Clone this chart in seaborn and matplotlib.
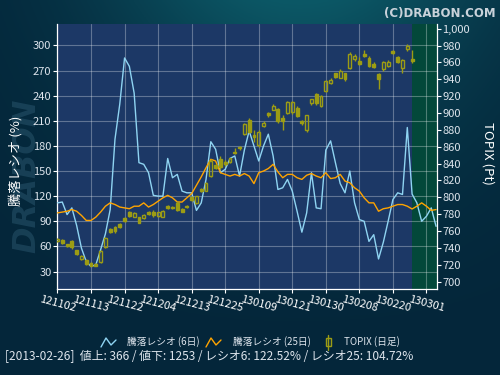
import numpy as np
import matplotlib
matplotlib.use('Agg')
import matplotlib.pyplot as plt
from matplotlib.lines import Line2D
from matplotlib.patches import Rectangle
import seaborn as sns

# x tick labels (every 7 trading days, from 2012-11-02)
tick_pos = [0, 7, 14, 21, 28, 35, 42, 49, 56, 63, 70, 77]
tick_labels = ['121102', '121113', '121122', '121204', '121213', '121225',
               '130109', '130121', '130130', '130208', '130220', '130301']

# 騰落レシオ 6日
ratio6 = [112, 113, 98, 106, 85, 58, 42, 36, 38, 56,
          75, 104, 188, 230, 285, 275, 243, 160, 158, 148,
          121, 120, 120, 165, 142, 146, 126, 124, 124, 103,
          112, 140, 185, 176, 148, 152, 165, 168, 144, 175,
          198, 180, 162, 180, 194, 168, 128, 130, 140, 126,
          102, 77, 100, 148, 106, 105, 175, 186, 160, 135,
          124, 150, 112, 92, 90, 66, 74, 45, 65, 90,
          116, 124, 122, 202, 122.5, 112, 90, 96, 106, 84]

# 騰落レシオ 25日
ratio25 = [100, 101, 102, 104, 102, 97, 91, 91, 95, 101,
           108, 112, 110, 107, 106, 105, 108, 108, 112, 107,
           110, 114, 118, 121, 118, 113, 113, 118, 123, 133,
           143, 154, 164, 162, 148, 146, 144, 146, 144, 147,
           144, 135, 148, 150, 153, 158, 149, 142, 146, 146,
           142, 140, 145, 147, 144, 142, 148, 141, 142, 146,
           138, 136, 130, 126, 118, 112, 112, 102, 105, 106,
           108, 110, 110, 108, 104.7, 108, 112, 108, 103, 104]

# TOPIX daily candles
topix_open = [748, 749, 744, 748, 737, 727, 725, 722, 721, 723,
              741, 762, 765, 768, 775, 783, 777, 776, 775, 783,
              782, 778, 777, 790, 789, 793, 786, 790, 800, 793,
              810, 808, 825, 838, 845, 842, 842, 854, 860, 875,
              892, 874, 862, 884, 900, 904, 905, 894, 900, 901,
              906, 891, 880, 912, 922, 908, 926, 935, 947, 942,
              947, 953, 964, 962, 970, 965, 958, 946, 952, 956,
              973, 966, 953, 976, 964]
topix_close = [751, 746, 742, 741, 733, 730, 721, 719, 719, 736,
               752, 759, 760, 765, 772, 778, 781, 770, 779, 780,
               779, 782, 784, 787, 787, 785, 783, 788, 797, 801,
               807, 817, 843, 835, 836, 839, 846, 852, 858, 887,
               878, 871, 878, 888, 897, 908, 890, 890, 913, 913,
               896, 888, 897, 916, 912, 920, 938, 939, 943, 950,
               940, 970, 968, 958, 968, 956, 955, 940, 961, 960,
               971, 961, 963, 980, 962]
topix_high = [752, 750, 745, 749, 738, 731, 727, 723, 722, 737,
              753, 763, 766, 770, 776, 784, 782, 777, 780, 784,
              785, 783, 785, 791, 790, 795, 787, 791, 801, 802,
              811, 818, 845, 839, 849, 844, 847, 858, 861, 888,
              894, 880, 880, 890, 901, 911, 906, 897, 914, 914,
              908, 892, 898, 917, 924, 921, 939, 941, 948, 952,
              948, 972, 970, 966, 975, 967, 960, 948, 962, 963,
              975, 968, 964, 982, 975]
topix_low = [747, 745, 741, 739, 732, 726, 720, 718, 718, 722,
             740, 758, 758, 764, 771, 777, 776, 769, 774, 779,
             777, 777, 776, 786, 786, 784, 782, 787, 796, 792,
             806, 807, 824, 834, 834, 837, 841, 851, 856, 874,
             876, 865, 860, 883, 895, 903, 888, 880, 899, 899,
             895, 886, 878, 910, 910, 907, 925, 934, 942, 941,
             938, 952, 962, 957, 966, 954, 953, 928, 950, 955,
             970, 959, 947, 974, 959]

footer = '[2013-02-26]  値上: 366 / 値下: 1253 / レシオ6: 122.52% / レシオ25: 104.72%'

sns.set_theme(style='dark')
plt.rcParams['font.family'] = ['Noto Sans CJK JP', 'DejaVu Sans']

BLUE = '#8fd4f2'
ORANGE = '#ffa400'
OLIVE = '#9c9c14'
TXT = '#dde4ec'

fig = plt.figure(figsize=(5, 3.75), dpi=100)

# background gradient
bg = fig.add_axes([0, 0, 1, 1], zorder=-10)
yy, xx = np.mgrid[0:1:200j, 0:1:260j]
w = np.exp(-((xx - 0.6) / 0.4) ** 2) * (1 - yy) ** 2
base = np.array([4, 38, 58]) / 255
teal = np.array([12, 88, 102]) / 255
img = base + w[..., None] * (teal - base)
bg.imshow(img, aspect='auto', extent=[0, 1, 0, 1])
bg.axis('off')
bg.text(0.054, 0.53, 'DRABON', rotation=90, fontsize=23, fontweight='bold',
        fontstyle='italic', color='#2b5870', alpha=0.5, ha='center', va='center',
        family='DejaVu Sans')

ax = fig.add_axes([0.114, 0.229, 0.760, 0.708])
ax.set_facecolor('#1c3866')
days = np.arange(len(ratio6))

ax.axvspan(len(topix_open) - 1, 80, color='#03483a', lw=0, zorder=0)

sns.lineplot(x=days, y=ratio6, ax=ax, color=BLUE, linewidth=1.0, zorder=3)
sns.lineplot(x=days, y=ratio25, ax=ax, color=ORANGE, linewidth=1.0, zorder=3)

ax.set_xlim(-0.1, 79.2)
ax.set_ylim(9, 326)
ax.set_yticks(np.arange(30, 301, 30))
ax.set_xticks(tick_pos)
ax.set_xticklabels(tick_labels, rotation=-15, ha='center', fontsize=8, color=TXT)
ax.tick_params(axis='y', colors='white', labelcolor=TXT, labelsize=8,
               length=3, width=0.8, direction='out', left=True, pad=1)
ax.tick_params(axis='x', colors='white', length=3, width=0.8, direction='out',
               bottom=True, pad=1)
ax.grid(True, color='white', alpha=0.3, linewidth=0.8)
ax.set_xlabel('')
ax.set_ylabel('')
for s in ['left', 'bottom']:
    ax.spines[s].set_color('white')
    ax.spines[s].set_linewidth(0.9)
ax.spines['top'].set_visible(False)
ax.spines['right'].set_visible(False)

# TOPIX candles on the right axis
ax2 = ax.twinx()
ax2.set_ylim(691, 1006)
bw = 0.6
for i, (o, c, h, l) in enumerate(zip(topix_open, topix_close, topix_high, topix_low)):
    lo, hi = min(o, c), max(o, c)
    ax2.vlines(i, hi, h, color=OLIVE, linewidth=1.0, zorder=4)
    ax2.vlines(i, l, lo, color=OLIVE, linewidth=1.0, zorder=4)
    up = c > o
    ax2.add_patch(Rectangle((i - bw / 2, lo), bw, max(hi - lo, 1.2),
                            facecolor='none' if up else OLIVE,
                            edgecolor=OLIVE, linewidth=1.0, zorder=4))
ax2.set_yticks(np.arange(700, 1001, 20))
ax2.set_yticklabels([f'{v:,}' for v in range(700, 1001, 20)])
ax2.tick_params(axis='y', colors='white', labelcolor=TXT, labelsize=8,
                length=3, width=0.8, direction='out', right=True, pad=1)
ax2.grid(False)
for s in ['left', 'bottom', 'top']:
    ax2.spines[s].set_visible(False)
ax2.spines['right'].set_color('white')
ax2.spines['right'].set_linewidth(0.9)

fig.text(0.032, 0.57, '騰落レシオ (%)', rotation=90, color='white', fontsize=9.5,
         ha='center', va='center')
fig.text(0.975, 0.59, 'TOPIX (Pt)', rotation=-90, color='white', fontsize=9.5,
         ha='center', va='center')
fig.text(0.992, 0.982, '(C)DRABON.COM', color='#c9d2da', fontsize=8.5,
         fontweight='bold', ha='right', va='top', family='DejaVu Sans')

# legend
def fx(px):
    return px / 500

def fy(py):
    return 1 - py / 375

fig.add_artist(Line2D([fx(101), fx(106), fx(111), fx(116)],
                      [fy(347), fy(338), fy(345), fy(340)],
                      color=BLUE, lw=1.0, transform=fig.transFigure))
fig.text(fx(127), fy(342), '騰落レシオ (6日)', color=TXT, fontsize=7, va='center')
fig.add_artist(Line2D([fx(206), fx(211), fx(216), fx(221)],
                      [fy(347), fy(338), fy(345), fy(340)],
                      color=ORANGE, lw=1.0, transform=fig.transFigure))
fig.text(fx(233), fy(342), '騰落レシオ (25日)', color=TXT, fontsize=7, va='center')
fig.add_artist(Line2D([fx(328), fx(328)], [fy(335), fy(350)],
                      color=OLIVE, lw=1.0, transform=fig.transFigure))
fig.add_artist(Rectangle((fx(325.5), fy(346)), fx(5), 8 / 375, facecolor='#0a2a40',
                         edgecolor=OLIVE, lw=1.0, transform=fig.transFigure))
fig.text(fx(344), fy(342), 'TOPIX (日足)', color=TXT, fontsize=7, va='center')

fig.text(fx(5), fy(357), footer, color=TXT, fontsize=8.6, va='center')

plt.savefig('out.png', dpi=100, facecolor='#062c44')
